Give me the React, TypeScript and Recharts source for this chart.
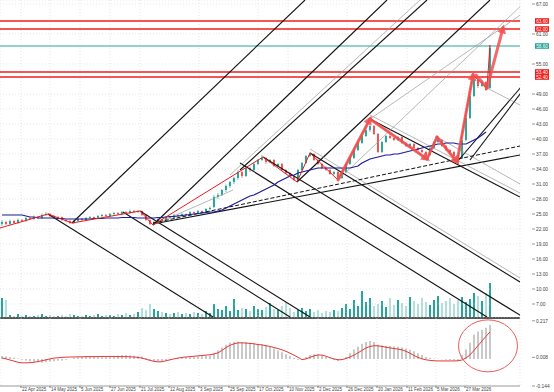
import React from "react";
import {
  ComposedChart,
  Bar,
  Line,
  XAxis,
  YAxis,
  CartesianGrid,
  ReferenceLine,
  ReferenceDot,
  Cell,
} from "recharts";

const TEAL = "#26a69a";
const TEAL_LIGHT = "#b2dfdb";
const RED = "#ef5350";
const LEVEL_RED = "#f21c1c";
const ARROW = "rgba(240,80,80,0.85)";
const FONT = "'Liberation Sans', Arial, sans-serif";

// x positions of the date ticks (bar index) and their labels
const dateTicks = [4.75, 12, 19.5, 27, 34.5, 41.75, 49.25, 56.75, 64, 71.5, 79, 86.25, 93.75, 101.25, 108.5, 115.75];
const dateLabels = [
  "22 Apr 2025", "14 May 2025", "5 Jun 2025", "27 Jun 2025", "21 Jul 2025", "12 Aug 2025",
  "3 Sep 2025", "25 Sep 2025", "17 Oct 2025", "10 Nov 2025", "2 Dec 2025", "26 Dec 2025",
  "20 Jan 2026", "11 Feb 2026", "5 Mar 2026", "27 Mar 2026",
];

const priceTicks = [67, 61, 55, 49, 46, 43, 40, 37, 34, 31, 28, 25, 22, 19, 16, 13, 10, 7];
const oscTicks = [0.217, 0.008, -0.144];

// open, high, low, close
const candles: number[][] = [
  [23.0, 23.8, 22.6, 23.4], [23.4, 23.6, 22.8, 23.0], [23.0, 23.9, 22.8, 23.6], [23.6, 23.8, 23.0, 23.2],
  [23.2, 24.1, 23.0, 23.8], [23.8, 24.0, 23.4, 23.6], [23.6, 24.4, 23.4, 24.2], [24.2, 24.4, 23.8, 24.0],
  [24.0, 24.7, 23.8, 24.4], [24.4, 24.6, 24.0, 24.2], [24.2, 25.1, 24.0, 24.8], [24.8, 25.4, 24.6, 25.0],
  [25.0, 25.2, 24.4, 24.6], [24.6, 24.8, 24.0, 24.2], [24.2, 24.6, 23.9, 24.4], [24.4, 24.5, 23.6, 23.8],
  [23.8, 24.0, 23.4, 23.6], [23.6, 23.8, 23.0, 23.2], [23.2, 23.8, 23.0, 23.6], [23.6, 24.2, 23.4, 24.0],
  [24.0, 24.2, 23.6, 23.8], [23.8, 24.4, 23.6, 24.2], [24.2, 24.6, 24.0, 24.4], [24.4, 24.5, 24.0, 24.2],
  [24.2, 24.8, 24.0, 24.6], [24.6, 25.0, 24.4, 24.8], [24.8, 25.0, 24.4, 24.6], [24.6, 25.2, 24.4, 25.0],
  [25.0, 25.4, 24.8, 25.2], [25.2, 25.4, 24.8, 25.0], [25.0, 25.6, 24.8, 25.4], [25.4, 25.6, 25.0, 25.2],
  [25.2, 25.9, 25.0, 25.6], [25.6, 25.8, 25.2, 25.4], [25.4, 25.8, 25.2, 25.6], [25.6, 25.7, 24.6, 24.8],
  [24.8, 25.0, 23.6, 23.8], [23.8, 24.0, 22.8, 23.0], [23.0, 23.6, 22.8, 23.4], [23.4, 24.2, 23.2, 24.0],
  [24.0, 24.1, 23.6, 23.8], [23.8, 24.6, 23.6, 24.4], [24.4, 24.5, 24.0, 24.2], [24.2, 25.0, 24.0, 24.8],
  [24.8, 24.9, 24.4, 24.6], [24.6, 25.2, 24.4, 25.0], [25.0, 25.1, 24.6, 24.8], [24.8, 25.6, 24.6, 25.4],
  [25.4, 25.5, 25.0, 25.2], [25.2, 25.8, 25.0, 25.6], [25.6, 25.7, 25.2, 25.4], [25.4, 26.2, 25.2, 26.0],
  [26.0, 26.5, 25.8, 26.2], [26.4, 28.8, 26.2, 28.4], [28.4, 29.2, 28.0, 28.8], [28.8, 30.0, 28.6, 29.8],
  [29.8, 30.9, 29.4, 30.6], [30.6, 31.6, 30.2, 31.4], [31.4, 32.5, 31.0, 32.2], [32.2, 33.8, 31.8, 33.4],
  [33.4, 33.6, 32.2, 32.6], [32.6, 34.6, 32.4, 34.2], [34.2, 34.4, 33.4, 33.8], [33.8, 35.4, 33.6, 35.0],
  [35.0, 36.0, 34.8, 35.8], [35.8, 36.8, 35.6, 36.2], [36.2, 36.4, 35.0, 35.4], [35.4, 36.0, 35.2, 35.8],
  [35.8, 36.0, 34.4, 34.6], [34.6, 35.2, 34.4, 35.0], [35.0, 35.2, 33.6, 33.8], [33.8, 34.0, 33.0, 33.2],
  [33.2, 33.4, 32.4, 32.6], [32.6, 32.8, 31.6, 31.8], [31.8, 34.0, 31.6, 33.8], [33.8, 35.4, 33.6, 35.2],
  [35.2, 36.8, 35.0, 36.6], [36.6, 37.4, 36.4, 37.0], [37.0, 37.2, 35.6, 35.8], [35.8, 36.0, 34.8, 35.0],
  [35.0, 35.2, 34.0, 34.2], [34.2, 34.6, 33.6, 33.8], [33.8, 34.0, 32.8, 33.0], [33.0, 33.6, 32.8, 33.4],
  [33.4, 33.6, 32.0, 32.2], [32.2, 33.6, 32.0, 33.4], [33.4, 35.2, 33.2, 35.0], [35.0, 36.4, 34.8, 36.2],
  [36.2, 38.0, 36.0, 37.8], [37.8, 39.4, 37.6, 39.2], [39.2, 40.8, 39.0, 40.6], [40.6, 42.0, 40.4, 41.8],
  [41.8, 42.8, 41.4, 42.6], [42.6, 42.8, 40.8, 41.0], [41.0, 41.2, 37.2, 37.4], [37.4, 39.6, 37.2, 39.4],
  [39.4, 40.8, 39.2, 40.6], [40.6, 41.0, 40.0, 40.2], [40.2, 40.4, 39.6, 39.8], [39.8, 40.6, 39.6, 40.4],
  [40.4, 40.6, 39.0, 39.2], [39.2, 39.4, 38.4, 38.6], [38.6, 39.2, 38.4, 39.0], [39.0, 39.2, 38.0, 38.2],
  [38.2, 38.4, 37.6, 37.8], [37.8, 38.0, 37.2, 37.4], [37.4, 37.6, 36.6, 36.8], [36.8, 38.4, 36.6, 38.2],
  [38.2, 39.6, 38.0, 39.4], [39.4, 40.4, 39.2, 39.8], [39.8, 40.0, 38.4, 38.6], [38.6, 38.8, 37.6, 37.8],
  [37.8, 38.0, 37.2, 37.4], [37.4, 37.6, 36.4, 36.6], [36.6, 36.8, 35.8, 36.2], [36.2, 39.8, 36.0, 39.8],
  [39.8, 44.6, 39.6, 44.2], [44.2, 49.0, 44.0, 48.6], [48.6, 52.6, 48.4, 51.8], [51.8, 52.0, 50.2, 50.6],
  [50.6, 51.8, 50.4, 51.4], [51.4, 51.6, 49.6, 49.8], [50.2, 58.8, 50.0, 58.2],
];

const maLine: (number | null)[] = [
  24.8, 24.8, 24.8, 24.8, 24.8, 24.8, 24.6, 24.4, 24.4, 24.2, 24.2, 24.2,
  24.2, 24.2, 24.1, 24.1, 24.0, 24.0, 24.0, 24.0, 24.0, 24.0, 24.0, 24.1, 24.1, 24.1, 24.2, 24.2, 24.2,
  24.2, 24.3, 24.3, 24.3, 24.3, 24.2, 24.2, 24.2, 24.2,
  24.2, 24.3, 24.3, 24.4, 24.5, 24.5, 24.6, 24.7, 24.8, 24.9, 25.0, 25.1, 25.2, 25.3, 25.4,
  25.4, 25.6, 25.8, 26.2, 26.6, 27.0, 27.4, 27.8, 28.2, 28.6, 28.8, 29.2, 29.6, 30.0, 30.4, 30.8, 31.4,
  31.8, 32.2, 32.6, 32.8, 33.2, 33.4, 33.6, 33.8, 34.0, 34.2,
  34.2, 34.2, 34.2, 34.2, 34.2, 34.2, 34.2, 34.2,
  34.4, 34.6, 35.2, 35.6, 36.0, 36.2, 36.4, 36.6, 36.8, 36.8, 37.0, 37.0, 37.2, 37.4, 37.6, 37.8, 38.0,
  38.2, 38.4, 38.6, 38.8, 39.0, 39.0, 39.2, 39.2, 39.2, 39.0, 39.0, 39.0, 39.4, 39.8, 40.2, 40.8, 41.4,
  null,
];

const volume = [
  20, 18,
  3, 2, 4, 2, 3, 2, 2, 3, 4, 2, 3, 2, 2, 3, 2, 4, 3, 2, 2, 3, 2, 3, 4, 2, 3, 3, 2, 4, 3, 5, 3, 4, 6, 10,
  8, 14, 9, 7, 6, 5, 4, 5, 6, 4, 5, 4, 6, 5, 4, 7, 5,
  14, 9, 8, 12, 7, 19, 8, 10, 9, 7, 12, 9, 8,
  11, 15, 9, 8, 12, 16, 10, 6, 8, 10, 7, 9, 6, 8, 5, 7, 6, 8, 7,
  10, 14, 9, 18, 12, 27, 16, 20, 12, 14, 17, 11, 20, 13, 18, 15, 12, 21, 17, 14, 20, 16,
  13, 18, 22, 15, 17, 20, 14, 18, 21, 16, 19, 25, 22, 17, 25, 35,
];

const histogram = [
  0.015, 0.012, 0.01, 0.006, 0.002, -0.004,
  -0.008, -0.012, -0.015, -0.018, -0.02, -0.018, -0.015, -0.012, -0.01, -0.008,
  -0.004, 0.0, 0.004, 0.008, 0.01, 0.012, 0.012, 0.01, 0.008, 0.008, 0.01,
  0.012, 0.015, 0.018, 0.02, 0.02, 0.018, 0.016, 0.014, 0.012,
  0.004, -0.006, -0.012, -0.014, -0.012, -0.008, -0.004,
  0.0, 0.004, 0.006, 0.008, 0.008, 0.01, 0.012, 0.014, 0.016, 0.018,
  0.03, 0.045, 0.06, 0.075, 0.085, 0.09, 0.092, 0.09, 0.088, 0.085, 0.082, 0.08, 0.078,
  0.072, 0.065, 0.055, 0.045, 0.035, 0.025, 0.015, 0.005,
  -0.005, 0.0, 0.01, 0.02, 0.025,
  0.022, 0.018, 0.01, 0.002, -0.006, -0.01,
  -0.006, 0.01, 0.03, 0.05, 0.065, 0.08, 0.09, 0.095,
  0.09, 0.075, 0.072, 0.07, 0.068, 0.066, 0.064, 0.06, 0.055, 0.048, 0.04, 0.03, 0.02, 0.01,
  0.004, 0.002, 0.0, -0.002, -0.004, -0.006, -0.008, -0.01,
  0.02, 0.05, 0.085, 0.13, 0.145, 0.155, 0.165, 0.18,
];

const signal = [
  0.005, 0.0, -0.006, -0.012, -0.018, -0.021, -0.021, -0.02, -0.018, -0.014, -0.01, -0.005, 0.0, 0.004, 0.006, 0.008, 0.009,
  0.01, 0.01, 0.011, 0.011, 0.012, 0.012, 0.012, 0.012, 0.013, 0.013, 0.013, 0.013, 0.012, 0.012, 0.012, 0.011, 0.01, 0.008,
  0.004, -0.002, -0.008, -0.013, -0.016, -0.015, -0.01, -0.005, 0.0, 0.004, 0.008, 0.01, 0.012, 0.014, 0.016, 0.018, 0.02, 0.022,
  0.026, 0.032, 0.045, 0.06, 0.072, 0.08, 0.085, 0.085, 0.084, 0.082, 0.08, 0.076, 0.074, 0.07, 0.066, 0.06, 0.055, 0.048, 0.04,
  0.03, 0.02, 0.008, -0.004,
  0.0, 0.008, 0.016, 0.021, 0.02, 0.014, 0.006, 0.0, -0.005, -0.004, 0.002, 0.01, 0.02, 0.032, 0.045, 0.058, 0.066,
  0.07, 0.069, 0.066, 0.062, 0.058, 0.055, 0.052, 0.048, 0.04, 0.03, 0.018, 0.008, 0.0, -0.005, -0.008, -0.01, -0.011,
  -0.011, -0.011, -0.011, -0.011, -0.01,
  -0.006, 0.005, 0.021, 0.045, 0.07, 0.095, 0.12, 0.143,
];

// zigzag pivots: bar index, price
const zigzag = [
  { i: -0.5, p: 22.2 }, { i: 11.5, p: 25.0 }, { i: 17.5, p: 23.2 }, { i: 34.5, p: 25.6 },
  { i: 37.75, p: 22.8 }, { i: 65.25, p: 36.4 }, { i: 73.75, p: 31.4 }, { i: 77, p: 37.2 },
  { i: 84, p: 31.8 }, { i: 92, p: 44.0 }, { i: 106.25, p: 36.0 }, { i: 108.75, p: 40.4 },
  { i: 113.75, p: 35.4 }, { i: 117.75, p: 52.8 }, { i: 121.25, p: 50.2 }, { i: 122, p: 58.8 },
];

// horizontal levels
const levelPrices = [63.6, 62.0, 58.6, 53.4, 52.4];
const levelColors = [LEVEL_RED, LEVEL_RED, TEAL, LEVEL_RED, LEVEL_RED];

// trend lines: [index1, price1, index2, price2]
const blackLines = [
  [17.5, 23.2, 75.75, 67.8],
  [37.75, 22.8, 96.25, 67.8],
  [59.5, 33.8, 106.25, 67.8],
  [73.75, 31.4, 122, 67.8],
  [113.75, 35.4, 132.75, 53.2],
  [117, 35.8, 132.75, 52.4],
  [11.5, 25.0, 52.75, 4.4],
  [30.25, 25.4, 72, 4.4],
  [34.5, 25.6, 77, 4.4],
  [59.5, 35.2, 121.25, 4.4],
  [65.25, 36.4, 130.25, 4.4],
  [77, 37.2, 129.5, 11.4],
  [92, 44.0, 129.5, 28.4],
  [37.75, 23.0, 129.5, 36.8],
];
const grayLines = [
  [57, 32.8, 104.5, 67.8],
  [84, 31.8, 131.25, 67.8],
  [92, 44.0, 135, 67.8],
  [77, 38.0, 129.5, 12.2],
  [92, 44.8, 129.5, 29.2],
  [108.75, 40.4, 129.5, 31.0],
  [121.25, 50.2, 129.5, 46.8],
  [37.75, 22.8, 57.75, 29.8],
];
const dashedLines = [[37.75, 23.2, 129.5, 38.6]];

// thick arrows: [index1, price1, index2, price2, head]
const arrows = [
  [84, 31.8, 92, 44.0, 1],
  [92, 44.0, 106.25, 36.0, 1],
  [106.25, 36.0, 108.75, 40.4, 0],
  [108.75, 40.4, 113.75, 35.4, 1],
  [113.75, 35.4, 117.75, 52.8, 1],
  [118.5, 52.8, 121.25, 50.2, 0],
  [121.25, 50.2, 125.25, 62.2, 1],
];

const rows = candles.map((k, i) => ({ i, ohlc: k, range: [k[2], k[1]], ma: maLine[i] }));
const volRows = candles.map((k, i) => ({ i, vol: volume[i], up: k[3] >= k[0] }));
const oscRows = candles.map((_, i) => ({ i, hist: histogram[i], sig: signal[i] }));

const X_DOMAIN: [number, number] = [-0.5, 129.5];

function Candle(props: any) {
  const { x, y, width, height, payload } = props;
  if (x == null || !payload) return null;
  const [o, h, l, c] = payload.ohlc;
  const top = Math.min(y, y + height);
  const span = Math.abs(height);
  const k = span / Math.max(h - l, 1e-6);
  const cx = x + width / 2;
  const yo = top + (h - o) * k;
  const yc = top + (h - c) * k;
  const col = c >= o ? TEAL : RED;
  return (
    <g>
      <line x1={cx} x2={cx} y1={top} y2={top + span} stroke={col} strokeWidth={0.7} />
      <rect x={cx - 1} y={Math.min(yo, yc)} width={2} height={Math.max(Math.abs(yc - yo), 0.7)} fill={col} />
    </g>
  );
}

function PriceTick(props: any) {
  const { x, y, payload } = props;
  return (
    <g>
      <line x1={x + 12} x2={x + 15} y1={y} y2={y} stroke="#555" strokeWidth={0.6} />
      <text x={x + 16} y={y} dy={1.7} fontSize={4.8} fill="#444" fontFamily={FONT}>
        {Number(payload.value).toFixed(2)}
      </text>
    </g>
  );
}

function OscTick(props: any) {
  const { x, y, payload } = props;
  const ty = Math.min(Math.max(y + 1.7, 4.5), 72.5);
  return (
    <g>
      <line x1={x + 12} x2={x + 15} y1={ty - 1.7} y2={ty - 1.7} stroke="#555" strokeWidth={0.6} />
      <text x={x + 16} y={ty} fontSize={4.8} fill="#444" fontFamily={FONT}>
        {Number(payload.value).toFixed(3)}
      </text>
    </g>
  );
}

function DateTick(props: any) {
  const { x, payload } = props;
  const idx = dateTicks.indexOf(payload.value);
  return (
    <text x={x + 1} y={72.6} fontSize={4.5} fill="#444" fontFamily={FONT} textAnchor="start">
      {dateLabels[idx]}
    </text>
  );
}

function levelTag(value: number, color: string) {
  return (p: any) => {
    const vb = p.viewBox || {};
    const x0 = vb.x + vb.width + 15;
    const y0 = vb.y;
    return (
      <g>
        <rect x={x0} y={y0 - 2.8} width={14} height={5.6} fill={color} />
        <text x={x0 + 7} y={y0} dy={1.6} fontSize={4.6} fill="#fff" textAnchor="middle" fontFamily={FONT}>
          {value.toFixed(2)}
        </text>
      </g>
    );
  };
}

export default function App() {
  return (
    <div style={{ position: "absolute", left: 0, top: 0, width: 554, height: 392, background: "#fff", overflow: "hidden" }}>
      <svg width={0} height={0} style={{ position: "absolute" }}>
        <defs>
          <marker id="arrowHead" viewBox="0 0 10 10" refX="6" refY="5" markerWidth="3" markerHeight="3" orient="auto">
            <path d="M0,0 L10,5 L0,10 z" fill={ARROW} />
          </marker>
        </defs>
      </svg>

      {/* volume, behind the price panel */}
      <div style={{ position: "absolute", left: 0, top: 0 }}>
        <ComposedChart width={554} height={320} data={volRows} margin={{ top: 0, right: 34, bottom: 0, left: 0 }}>
          <XAxis dataKey="i" type="number" domain={X_DOMAIN} height={2} tick={false} tickLine={false}
            axisLine={{ stroke: "#555", strokeWidth: 2 }} />
          <YAxis yAxisId="vol" hide domain={[0, 318]} />
          <Bar yAxisId="vol" dataKey="vol" barSize={2} isAnimationActive={false} activeBar={false}>
            {volRows.map((r) => (
              <Cell key={r.i} fill={r.up ? TEAL : TEAL_LIGHT} />
            ))}
          </Bar>
        </ComposedChart>
      </div>

      {/* price panel */}
      <div style={{ position: "absolute", left: 0, top: 0 }}>
        <ComposedChart width={554} height={318} data={rows} margin={{ top: 0, right: 0, bottom: 0, left: 0 }}>
          <CartesianGrid stroke="#d6d6d6" strokeDasharray="1 2" strokeWidth={0.6} />
          <XAxis dataKey="i" type="number" domain={X_DOMAIN} ticks={dateTicks} hide />
          <YAxis orientation="right" width={34} domain={[4.2, 67.8]} ticks={priceTicks} interval={0}
            axisLine={false} tickLine={false} tickSize={0} tickMargin={0} tick={<PriceTick />} />
          {levelPrices.map((p, k) => (
            <ReferenceLine key={`lv${k}`} y={p} stroke={levelColors[k]} strokeWidth={levelColors[k] === TEAL ? 1 : 1.3}
              label={{ content: levelTag(p, levelColors[k]) } as any} />
          ))}
          {blackLines.map((s, k) => (
            <ReferenceLine key={`b${k}`} ifOverflow="hidden" stroke="#111" strokeWidth={1.1}
              segment={[{ x: s[0], y: s[1] }, { x: s[2], y: s[3] }]} />
          ))}
          {grayLines.map((s, k) => (
            <ReferenceLine key={`g${k}`} ifOverflow="hidden" stroke="#9a9a9a" strokeWidth={0.7}
              segment={[{ x: s[0], y: s[1] }, { x: s[2], y: s[3] }]} />
          ))}
          {dashedLines.map((s, k) => (
            <ReferenceLine key={`d${k}`} ifOverflow="hidden" stroke="#111" strokeWidth={1} strokeDasharray="4 2"
              segment={[{ x: s[0], y: s[1] }, { x: s[2], y: s[3] }]} />
          ))}
          <Bar dataKey="range" barSize={2} shape={<Candle />} isAnimationActive={false} activeBar={false} />
          <Line dataKey="ma" stroke="#1c1c9a" strokeWidth={1.2} dot={false} activeDot={false}
            isAnimationActive={false} connectNulls />
          <Line data={zigzag} dataKey="p" stroke="#f01818" strokeWidth={1} dot={false} activeDot={false}
            isAnimationActive={false} />
          {arrows.map((s, k) => (
            <ReferenceLine key={`a${k}`} ifOverflow="visible"
              segment={[{ x: s[0], y: s[1] }, { x: s[2], y: s[3] }]}
              shape={(p: any) => (
                <line x1={p.x1} y1={p.y1} x2={p.x2} y2={p.y2} stroke={ARROW} strokeWidth={3} strokeLinecap="round"
                  markerEnd={s[4] ? "url(#arrowHead)" : undefined} />
              )} />
          ))}
        </ComposedChart>
      </div>

      {/* oscillator panel */}
      <div style={{ position: "absolute", left: 0, top: 318 }}>
        <ComposedChart width={554} height={74} data={oscRows} margin={{ top: 0, right: 0, bottom: 0, left: 0 }}>
          <CartesianGrid stroke="#d6d6d6" strokeDasharray="1 2" strokeWidth={0.6} horizontal={false} />
          <XAxis dataKey="i" type="number" domain={X_DOMAIN} ticks={dateTicks} interval={0} height={6}
            axisLine={{ stroke: "#999" }} tickLine={{ stroke: "#777" }} tickSize={2} tick={<DateTick />} />
          <YAxis orientation="right" width={34} domain={[-0.144, 0.217]} ticks={oscTicks} interval={0}
            axisLine={false} tickLine={false} tickSize={0} tickMargin={0} tick={<OscTick />} />
          <Bar dataKey="hist" fill="#c9c9c9" barSize={2} isAnimationActive={false} activeBar={false} />
          <Line dataKey="sig" stroke="#e53935" strokeWidth={1} dot={false} activeDot={false} isAnimationActive={false} />
          <ReferenceDot x={121.5} y={0.069} ifOverflow="visible"
            shape={(p: any) => (
              <ellipse cx={p.cx} cy={p.cy} rx={29.5} ry={26} fill="none" stroke="#f05a5a" strokeWidth={1} />
            )} />
        </ComposedChart>
      </div>
    </div>
  );
}
